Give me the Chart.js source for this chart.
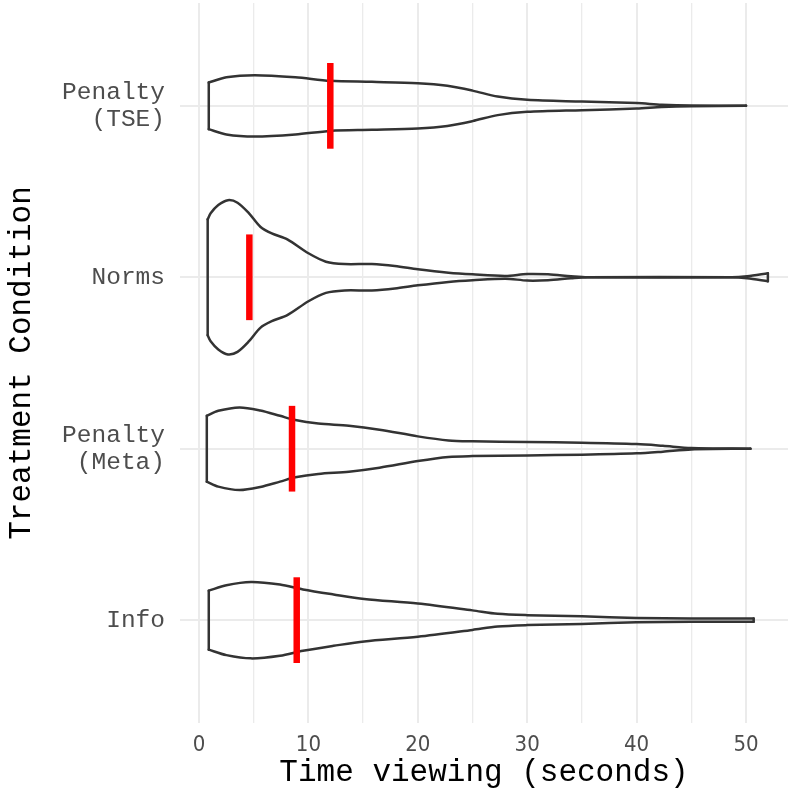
<!DOCTYPE html>
<html>
<head>
<meta charset="utf-8">
<script src="https://cdn.jsdelivr.net/npm/chart.js@4.4.1/dist/chart.umd.min.js"></script>
<style>
  html, body { margin: 0; padding: 0; background: #fff; }
  #wrap { width: 788px; height: 790px; }
</style>
</head>
<body>
<div id="wrap"><canvas id="chart"></canvas></div>
<script>
// categories from bottom (y = 1) to top (y = 4)
const categories = [['Info'], ['Penalty', '(Meta)'], ['Norms'], ['Penalty', '(TSE)']];
const xTicks = [0, 10, 20, 30, 40, 50];

// violin outlines: time in seconds and half width in category units
const infoTime = [0.89, 2.5, 4.75, 7.4, 9.5, 12.3, 15.1, 20, 25, 27.3, 30, 35, 40, 45, 50.7];
const infoHalf = [0.172, 0.204, 0.223, 0.208, 0.179, 0.150, 0.124, 0.097, 0.057, 0.037, 0.029, 0.022, 0.013, 0.010, 0.009];

const metaTime = [0.71, 1.76, 3.7, 5.6, 7.4, 8.8, 10.9, 13.7, 16.5, 20, 22.8, 25, 30, 35, 40, 42.4, 45, 50.4];
const metaHalf = [0.192, 0.221, 0.241, 0.223, 0.192, 0.167, 0.147, 0.134, 0.111, 0.072, 0.048, 0.043, 0.039, 0.035, 0.027, 0.017, 0.004, 0];

const normsTime = [0.79, 1.06, 1.76, 2.64, 3.52, 4.57, 5.6, 6.65, 8.07, 10, 11.6, 13.3, 15.8, 17.9, 20, 22.8, 25, 28, 30, 31.9, 34, 35.5, 48.7, 50.1, 52];
const normsHalf = [0.338, 0.373, 0.421, 0.450, 0.435, 0.373, 0.295, 0.256, 0.221, 0.140, 0.091, 0.077, 0.077, 0.066, 0.047, 0.027, 0.017, 0.008, 0.019, 0.017, 0.006, 0, 0, 0.006, 0.023];

const tseTime = [0.89, 2.5, 5.1, 8.8, 12, 15.8, 20, 22.7, 25, 27.3, 30, 35, 40, 42.3, 45, 50];
const tseHalf = [0.136, 0.167, 0.179, 0.167, 0.146, 0.140, 0.132, 0.117, 0.089, 0.054, 0.035, 0.025, 0.016, 0.007, 0.002, 0];

// red median bars, same order as categories
const medians = [8.93, 8.5, 4.6, 12.0];

const violins = [
  { time: infoTime, half: infoHalf },
  { time: metaTime, half: metaHalf },
  { time: normsTime, half: normsHalf },
  { time: tseTime, half: tseHalf }
];

function outline(data, smooth) {
  return {
    data: data,
    showLine: true,
    borderColor: '#333333',
    borderWidth: 2.5,
    pointRadius: 0,
    fill: false,
    tension: smooth ? 0.3 : 0,
    borderCapStyle: 'round',
    borderJoinStyle: 'round',
    order: 1
  };
}

const datasets = [];
violins.forEach((v, i) => {
  const pos = i + 1;
  const n = v.time.length - 1;
  datasets.push(outline(v.time.map((t, k) => ({ x: t, y: pos + v.half[k] })), true));
  datasets.push(outline(v.time.map((t, k) => ({ x: t, y: pos - v.half[k] })), true));
  datasets.push(outline([{ x: v.time[0], y: pos + v.half[0] }, { x: v.time[0], y: pos - v.half[0] }], false));
  datasets.push(outline([{ x: v.time[n], y: pos + v.half[n] }, { x: v.time[n], y: pos - v.half[n] }], false));
});
medians.forEach((m, i) => {
  datasets.push({
    data: [{ x: m, y: i + 1 - 0.25 }, { x: m, y: i + 1 + 0.25 }],
    showLine: true,
    borderColor: '#ff0000',
    borderWidth: 6.5,
    pointRadius: 0,
    borderCapStyle: 'butt',
    order: 0
  });
});

const monoFont = 'Liberation Mono, Courier New, monospace';

new Chart(document.getElementById('chart'), {
  type: 'scatter',
  data: { datasets: datasets },
  options: {
    responsive: true,
    maintainAspectRatio: false,
    animation: false,
    layout: { padding: { top: 3, right: 0, bottom: 0, left: 0 } },
    plugins: { legend: { display: false }, tooltip: { enabled: false } },
    scales: {
      x: {
        type: 'linear',
        min: -1.74,
        max: 53.84,
        afterBuildTicks: s => {
          const t = [];
          for (let v = 0; v <= 50; v += 5) t.push({ value: v });
          s.ticks = t;
        },
        afterFit: s => {
          s.height = 67;
          s.paddingLeft = 0;
          s.paddingRight = 0;
        },
        ticks: {
          autoSkip: false,
          maxRotation: 0,
          padding: 11,
          color: '#4d4d4d',
          font: { family: 'Liberation Sans Narrow, DejaVu Sans Condensed, Liberation Mono, monospace', size: 22, lineHeight: 1 },
          callback: v => xTicks.includes(v) ? String(v) : ''
        },
        grid: {
          color: '#ebebeb',
          drawTicks: false,
          lineWidth: ctx => (ctx.tick && ctx.tick.value % 10 === 0) ? 2 : 1.3
        },
        border: { display: false },
        title: {
          display: true,
          text: 'Time viewing (seconds)',
          color: '#000',
          font: { family: monoFont, size: 31, lineHeight: 1 },
          padding: { top: 0, bottom: 2 }
        }
      },
      y: {
        type: 'linear',
        min: 0.4,
        max: 4.6,
        afterBuildTicks: s => {
          s.ticks = [1, 2, 3, 4].map(v => ({ value: v }));
        },
        afterFit: s => {
          s.width = 180;
          s.paddingTop = 0;
          s.paddingBottom = 0;
        },
        ticks: {
          autoSkip: false,
          padding: 15,
          color: '#4d4d4d',
          font: { family: monoFont, size: 24.5, lineHeight: 1.1 },
          callback: v => categories[v - 1]
        },
        grid: { color: '#ebebeb', lineWidth: 2, drawTicks: false },
        border: { display: false },
        title: {
          display: true,
          text: 'Treatment Condition',
          color: '#000',
          font: { family: monoFont, size: 31, lineHeight: 1 },
          padding: { top: 6, bottom: 0 }
        }
      }
    }
  }
});
</script>
</body>
</html>
